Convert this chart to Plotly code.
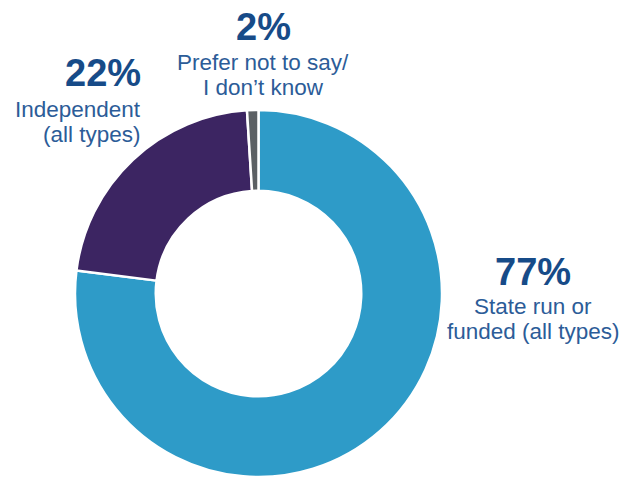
import plotly.graph_objects as go

# school type shares (drawn) and the printed labels
categories = ["State run or funded (all types)", "Independent (all types)", "Prefer not to say/ I don't know"]
shares = [77, 22, 1]
pct_labels = ["77%", "22%", "2%"]
desc_lines = [
    ["State run or", "funded (all types)"],
    ["Independent", "(all types)"],
    ["Prefer not to say/", "I don\u2019t know"],
]
colors = ["#2e9bc8", "#3c2562", "#5b6064"]

W, H = 641, 477
FONT = "Liberation Sans, Arial, Helvetica, sans-serif"
PCT_COLOR = "#174b88"
DESC_COLOR = "#2c5c98"

fig = go.Figure(go.Pie(
    labels=categories,
    values=shares,
    hole=0.56,
    sort=False,
    direction="clockwise",
    rotation=0,
    marker=dict(colors=colors, line=dict(color="white", width=2.5)),
    textinfo="none",
    hoverinfo="label+percent",
    domain=dict(x=[75 / W, 442 / W], y=[0, 367 / H]),
    showlegend=False,
))


def to_paper(x, y):
    return x / W, 1 - y / H


# x, anchor, y of percent, y of each description line (pixels from top)
label_pos = [
    (533, "center", 272, [306.5, 331.5]),
    (143, "right", 73.5, [109, 135]),
    (263, "center", 27, [62.5, 87.5]),
]

for (x, anchor, yp, yds), pct, lines in zip(label_pos, pct_labels, desc_lines):
    ax, ay = to_paper(x, yp)
    fig.add_annotation(x=ax, y=ay, xref="paper", yref="paper", text=f"<b>{pct}</b>",
                       showarrow=False, xanchor=anchor, yanchor="middle",
                       font=dict(family=FONT, size=38, color=PCT_COLOR))
    for yd, line in zip(yds, lines):
        ax, ay = to_paper(x, yd)
        fig.add_annotation(x=ax, y=ay, xref="paper", yref="paper", text=line,
                           showarrow=False, xanchor=anchor, yanchor="middle",
                           font=dict(family=FONT, size=22.5, color=DESC_COLOR))

fig.update_layout(
    width=W, height=H,
    margin=dict(l=0, r=0, t=0, b=0),
    paper_bgcolor="white",
    plot_bgcolor="white",
)

# drop the browser's default page margin so the figure sits at the window corner
fig.write_html("out.html", config={"displayModeBar": False},
               post_script="document.body.style.margin='0';")
